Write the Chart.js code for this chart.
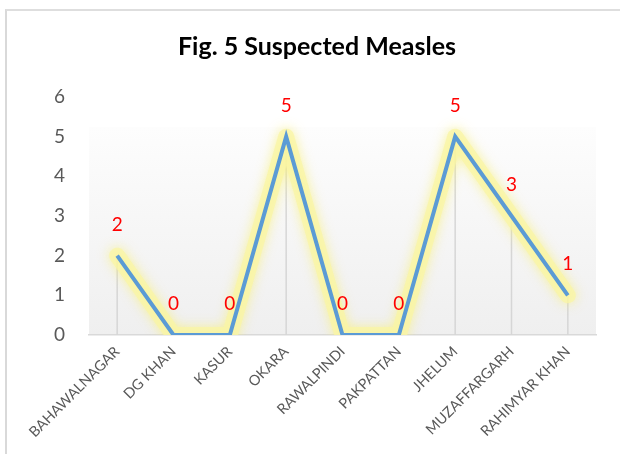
<!DOCTYPE html>
<html>
<head>
<meta charset="utf-8">
<script src="https://cdn.jsdelivr.net/npm/chart.js@4.4.1/dist/chart.umd.min.js"></script>
<style>
  html, body { margin: 0; padding: 0; background: #fff; }
  #wrap { position: relative; width: 620px; height: 454px; overflow: hidden; }
  #frame { position: absolute; left: 5px; top: 9px; width: 700px; height: 600px;
           border-left: 2px solid #d9d9d9; border-top: 2px solid #dedede; }
  canvas { position: absolute; left: 0; top: 0; }
</style>
</head>
<body>
<div id="wrap">
  <div id="frame"></div>
  <canvas id="chart" width="620" height="454"></canvas>
</div>
<script>
// data
const districts = ['BAHAWALNAGAR', 'DG KHAN', 'KASUR', 'OKARA', 'RAWALPINDI', 'PAKPATTAN', 'JHELUM', 'MUZAFFARGARH', 'RAHIMYAR KHAN'];
const cases = [2, 0, 0, 5, 0, 0, 5, 3, 1];
const yTicks = [0, 1, 2, 3, 4, 5, 6];

const FONT = 'Lato, "Open Sans", sans-serif';

// plot area shading (white -> light grey)
const plotShade = {
    id: 'plotShade',
    beforeDraw(chart) {
        const { ctx, chartArea: a } = chart;
        const top = a.top + 30;
        const g = ctx.createLinearGradient(0, top, 0, a.bottom);
        g.addColorStop(0, '#fdfdfd');
        g.addColorStop(1, '#efefef');
        ctx.save();
        ctx.fillStyle = g;
        ctx.fillRect(a.left, top, a.right - a.left, a.bottom - top);
        ctx.restore();
    }
};

// Excel style drop lines from each point to the axis
const dropLines = {
    id: 'dropLines',
    beforeDatasetsDraw(chart) {
        const { ctx, chartArea: a } = chart;
        const pts = chart.getDatasetMeta(1).data;
        ctx.save();
        ctx.strokeStyle = '#d6d6d6';
        ctx.lineWidth = 1.5;
        pts.forEach(p => {
            ctx.beginPath();
            ctx.moveTo(p.x, p.y);
            ctx.lineTo(p.x, a.bottom);
            ctx.stroke();
        });
        ctx.restore();
    }
};

// soft yellow glow on the underlay dataset
const glow = {
    id: 'glow',
    beforeDatasetDraw(chart, args) {
        if (args.index !== 0) return;
        const ctx = chart.ctx;
        ctx.save();
        ctx.shadowColor = 'rgba(248, 240, 120, 0.95)';
        ctx.shadowBlur = 12;
    },
    afterDatasetDraw(chart, args) {
        if (args.index !== 0) return;
        chart.ctx.restore();
    }
};

// red value labels above points
const valueLabels = {
    id: 'valueLabels',
    afterDatasetsDraw(chart) {
        const { ctx } = chart;
        const meta = chart.getDatasetMeta(1);
        ctx.save();
        ctx.fillStyle = '#ff0000';
        ctx.font = '19px ' + FONT;
        ctx.textAlign = 'center';
        ctx.textBaseline = 'middle';
        meta.data.forEach((p, i) => {
            ctx.fillText(String(cases[i]), p.x, p.y - 31);
        });
        ctx.restore();
    }
};

new Chart(document.getElementById('chart'), {
    type: 'line',
    data: {
        labels: districts,
        datasets: [
            // glow underlay (drawn first)
            { data: cases, order: 1, borderColor: 'rgba(250, 246, 165, 0.75)', borderWidth: 16, pointRadius: 0,
              borderJoinStyle: 'round', borderCapStyle: 'round', tension: 0 },
            { data: cases, order: 0, borderColor: '#5b9bd5', borderWidth: 4, pointRadius: 0,
              borderJoinStyle: 'miter', borderCapStyle: 'butt', tension: 0 }
        ]
    },
    options: {
        responsive: false,
        animation: false,
        events: [],
        layout: { padding: { left: 38, right: 24, top: 0, bottom: 0 } },
        plugins: {
            legend: { display: false },
            tooltip: { enabled: false },
            title: {
                display: true,
                text: 'Fig. 5 Suspected Measles',
                color: '#000',
                font: { family: FONT, size: 25, weight: 'bold' },
                padding: { top: 32, bottom: 35 }
            }
        },
        scales: {
            x: {
                offset: true,
                grid: { display: false, drawTicks: false },
                border: { display: true, color: '#d9d9d9', width: 1.5 },
                ticks: { color: '#595959', font: { family: FONT, size: 14.5 }, minRotation: 45, maxRotation: 45, padding: 8, autoSkip: false },
                afterFit(s) { s.height = 119; }
            },
            y: {
                min: yTicks[0],
                max: yTicks[yTicks.length - 1],
                afterBuildTicks(s) { s.ticks = yTicks.map(v => ({ value: v })); },
                grid: { display: false, drawTicks: false },
                border: { display: false },
                ticks: { color: '#595959', font: { family: FONT, size: 19 }, padding: 24 },
                afterFit(s) { s.width = 51; }
            }
        }
    },
    plugins: [plotShade, dropLines, glow, valueLabels]
});
</script>
</body>
</html>
